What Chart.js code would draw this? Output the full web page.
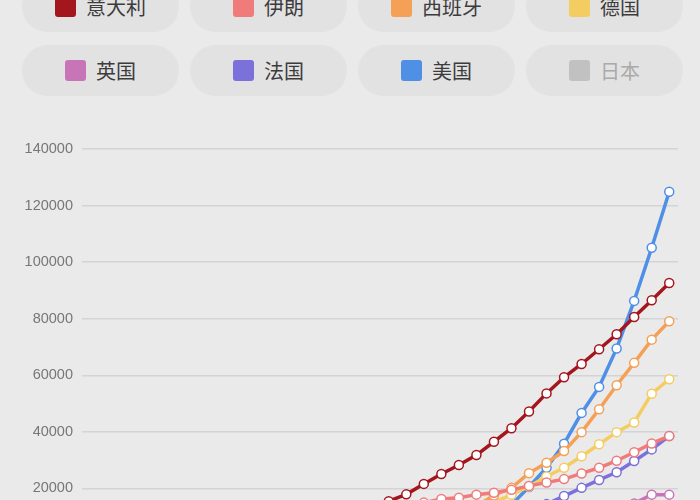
<!DOCTYPE html>
<html>
<head>
<meta charset="utf-8">
<script src="https://cdn.jsdelivr.net/npm/chart.js@4"></script>
<style>
  html, body { margin: 0; padding: 0; width: 700px; height: 500px; overflow: hidden; background: #ebeaeb; }
  #legend {
    position: absolute; left: 22px; top: -19px;
    display: grid; grid-template-columns: repeat(4, 157px); column-gap: 11px; row-gap: 13px;
  }
  .pill {
    height: 51px; border-radius: 26px; background: #e3e2e3;
    display: flex; align-items: center; justify-content: center;
    font-family: "Noto Sans CJK SC", sans-serif; font-size: 20px; color: #3c3c3c;
  }
  .pill .box { width: 21px; height: 21px; border-radius: 3px; margin-right: 10px; }
  .pill.off { color: #aaa; }
  #wrap { position: absolute; left: 0; top: 120px; width: 700px; height: 465px; }
</style>
</head>
<body>
<div id="legend"></div>
<div id="wrap"><canvas id="covidChart"></canvas></div>
<script>
// dates, Feb 24 - Mar 28
const labels = ['2/24','2/25','2/26','2/27','2/28','2/29','3/1','3/2','3/3','3/4','3/5','3/6','3/7','3/8','3/9','3/10','3/11',
  '3/12','3/13','3/14','3/15','3/16','3/17','3/18','3/19','3/20','3/21','3/22','3/23','3/24','3/25','3/26','3/27','3/28'];

const countries = ['意大利', '伊朗', '西班牙', '德国', '英国', '法国', '美国', '日本'];
const colors = ['#a3161d', '#f07b7b', '#f4a056', '#f4cd62', '#c875b8', '#7c70da', '#4f8fe6', '#c2c1c2'];

const italy = [229,322,453,655,888,1128,1694,2036,2502,3089,3858,4636,5883,7375,9172,10149,12462,
  15500,17900,21600,25100,28300,31800,36500,41300,47200,53600,59300,64000,69200,74500,80600,86500,92600];
const iran = [139,245,388,593,978,1501,2336,2922,3513,4747,5823,6566,7161,8042,9000,10075,11364,
  12729,13938,14991,16300,16700,17800,18500,19500,20900,22100,23300,25300,27300,29800,32800,35900,38500];
const spain = [6,13,15,32,45,84,120,165,222,259,400,500,673,1073,1695,2277,3146,
  5232,6391,7798,9942,11748,13910,17500,20200,25400,29100,33200,39900,48000,56500,64400,72600,79100];
const germany = [16,17,27,46,48,79,130,159,196,262,482,670,799,1040,1176,1457,1908,
  2078,3675,4585,5795,7272,9257,15000,17800,20700,24200,27300,31400,35600,39900,43300,53500,58600];
const uk = [13,13,15,20,23,36,40,51,85,115,163,206,273,321,382,456,456,
  798,1140,1140,1543,1950,2626,2689,3983,5018,5683,6650,8077,9529,11658,14700,17800,17800];
const france = [12,14,18,38,57,100,130,191,204,285,377,653,949,1126,1209,1784,2284,
  2284,3667,4480,4513,6650,7699,9105,10947,12612,14459,17300,20200,23000,25700,29700,33800,38500];
const usa = [53,53,59,60,62,70,76,101,122,153,221,278,417,537,605,959,1281,
  1663,2179,2726,3499,4632,6421,9415,14250,20500,27300,35800,46700,55900,69500,86300,105100,124900];
const japan = [144,144,164,186,210,230,239,254,268,284,317,349,408,455,488,514,568,
  620,675,716,780,814,829,873,950,1007,1046,1089,1128,1193,1307,1387,1468,1693];

const series = [italy, iran, spain, germany, uk, france, usa, japan];
const hiddenSeries = ['日本'];

const datasets = countries.map((name, i) => ({
  label: name,
  data: series[i],
  borderColor: colors[i],
  backgroundColor: colors[i],
  borderWidth: 3.5,
  tension: 0,
  pointRadius: 4.5,
  pointBorderWidth: 1.5,
  pointBackgroundColor: '#ffffff',
  pointBorderColor: colors[i],
  hidden: hiddenSeries.includes(name)
}));

// html legend with pills
const legend = document.getElementById('legend');
datasets.forEach(ds => {
  const pill = document.createElement('div');
  pill.className = 'pill' + (ds.hidden ? ' off' : '');
  pill.innerHTML = `<span class="box" style="background:${ds.borderColor}"></span><span>${ds.label}</span>`;
  legend.appendChild(pill);
});

const ctx = document.getElementById('covidChart').getContext('2d');
new Chart(ctx, {
  type: 'line',
  data: { labels: labels, datasets: datasets },
  options: {
    responsive: true,
    maintainAspectRatio: false,
    animation: false,
    layout: { padding: { top: 29, right: 22, left: 0, bottom: 0 } },
    plugins: { legend: { display: false }, tooltip: { enabled: false } },
    scales: {
      x: {
        offset: true,
        grid: { display: false },
        border: { display: false },
        ticks: { color: '#777', font: { family: 'Liberation Sans', size: 14 } },
        afterFit: s => { s.height = 40; }
      },
      y: {
        min: 0,
        max: 140000,
        border: { display: false },
        grid: { color: '#d5d4d5', lineWidth: 1.5, drawTicks: false },
        ticks: {
          stepSize: 20000,
          padding: 9,
          color: '#777',
          font: { family: 'Liberation Sans', size: 14.5 },
          callback: v => String(v)
        },
        afterFit: s => { s.width = 82; }
      }
    }
  }
});
</script>
</body>
</html>
